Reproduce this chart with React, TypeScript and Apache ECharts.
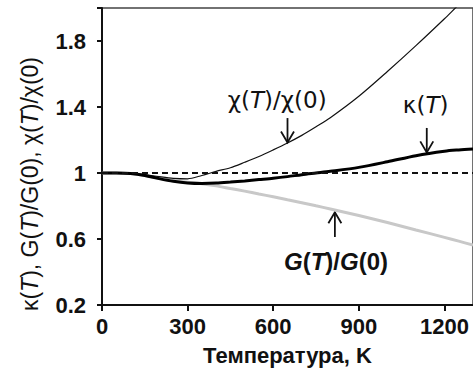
import React, { useEffect, useRef } from "react";
import * as echarts from "echarts";

const temps = [0, 50, 100, 150, 200, 250, 300, 350, 400, 450, 500, 550, 600, 650, 700, 750, 800, 900, 1000, 1100, 1200, 1250, 1300];
const kappa = [1, 1, 0.997, 0.985, 0.966, 0.95, 0.94, 0.937, 0.939, 0.945, 0.952, 0.96, 0.968, 0.978, 0.99, 1.0, 1.01, 1.034, 1.068, 1.105, 1.132, 1.14, 1.146];
const gRatio = [1, 1, 0.997, 0.985, 0.968, 0.953, 0.944, 0.935, 0.922, 0.906, 0.89, 0.873, 0.856, 0.838, 0.82, 0.801, 0.782, 0.742, 0.7, 0.655, 0.61, 0.587, 0.563];
const chi = [1, 1, 0.998, 0.99, 0.978, 0.968, 0.965, 0.985, 1.01, 1.032, 1.065, 1.1, 1.14, 1.182, 1.228, 1.28, 1.335, 1.465, 1.615, 1.772, 1.935, 2.02, 2.1];
const xTicks = [0, 300, 600, 900, 1200];
const yTicks = [0.2, 0.6, 1, 1.4, 1.8];
const refLevel = 1;

const FONT = "'Liberation Sans', Arial, sans-serif";
const DV = "'DejaVu Sans', sans-serif";

const pairs = (ys: number[]) => temps.map((t, i) => [t, ys[i]]);

export default function App() {
  const ref = useRef<HTMLDivElement>(null);
  useEffect(() => {
    if (!ref.current) return;
    const chart = echarts.init(ref.current, undefined, { renderer: "svg" });
    chart.setOption({
      animation: false,
      backgroundColor: "#ffffff",
      grid: {
        left: 102,
        top: 8,
        width: 373,
        height: 297,
        show: true,
        borderColor: "#444",
        borderWidth: 1.5,
      },
      xAxis: {
        type: "value",
        min: 0,
        max: 1300,
        interval: 300,
        name: "Температура, K",
        nameLocation: "middle",
        nameGap: 39,
        nameTextStyle: { fontFamily: FONT, fontWeight: "bold", fontSize: 22, color: "#111" },
        axisLine: { show: true, onZero: false, lineStyle: { color: "#111", width: 2 } },
        axisTick: { show: true, inside: false, length: 6, lineStyle: { color: "#111", width: 2 } },
        axisLabel: {
          fontFamily: FONT,
          fontWeight: "bold",
          fontSize: 22,
          color: "#111",
          margin: 10,
          showMaxLabel: false,
          formatter: (v: number) => (xTicks.includes(v) ? String(v) : ""),
        },
        splitLine: { show: false },
      },
      yAxis: {
        type: "value",
        min: 0.2,
        max: 2.0,
        interval: 0.4,
        axisLine: { show: true, onZero: false, lineStyle: { color: "#111", width: 2 } },
        axisTick: { show: true, inside: false, length: 5, lineStyle: { color: "#111", width: 2 } },
        axisLabel: {
          fontFamily: FONT,
          fontWeight: "bold",
          fontSize: 22,
          color: "#111",
          margin: 16,
          formatter: (v: number) => {
            const m = yTicks.find((t) => Math.abs(t - v) < 1e-6);
            return m === undefined ? "" : String(m);
          },
        },
        splitLine: { show: false },
      },
      series: [
        {
          type: "line",
          name: "G",
          data: pairs(gRatio),
          smooth: 0.3,
          showSymbol: false,
          lineStyle: { color: "#c8c8c8", width: 3 },
          z: 2,
        },
        {
          type: "line",
          name: "chi",
          data: pairs(chi),
          smooth: 0.3,
          showSymbol: false,
          lineStyle: { color: "#111", width: 1.2 },
          z: 3,
          markLine: {
            symbol: "none",
            silent: true,
            label: { show: false },
            lineStyle: { color: "#111", width: 2, type: [6, 4] },
            data: [{ yAxis: refLevel }],
          },
        },
        {
          type: "line",
          name: "kappa",
          data: pairs(kappa),
          smooth: 0.3,
          showSymbol: false,
          lineStyle: { color: "#000", width: 3 },
          z: 4,
        },
      ],
    });

    const px = (t: number, v: number) => chart.convertToPixel({ gridIndex: 0 }, [t, v]) as number[];
    const arrow = (t: number, v0: number, v1: number) => {
      const a = px(t, v0);
      const b = px(t, v1);
      const dir = b[1] > a[1] ? 1 : -1;
      return {
        type: "group",
        children: [
          { type: "line", shape: { x1: a[0], y1: a[1], x2: b[0], y2: b[1] }, style: { stroke: "#111", lineWidth: 1.8 } },
          {
            type: "polyline",
            shape: { points: [[b[0] - 6.5, b[1] - dir * 11], [b[0], b[1]], [b[0] + 6.5, b[1] - dir * 11]] },
            style: { stroke: "#111", lineWidth: 1.8, fill: "none" },
          },
        ],
      };
    };
    const label = (t: number, v: number, text: string, family: string, size: number, bold: boolean) => {
      const p = px(t, v);
      const w = bold ? "bold" : "normal";
      const base = { fontFamily: family, fontSize: size, fontWeight: w, fill: "#111" };
      return {
        type: "text",
        x: p[0],
        y: p[1],
        style: {
          text,
          align: "center",
          verticalAlign: "middle",
          ...base,
          rich: {
            n: { ...base },
            i: { ...base, fontStyle: "italic" },
          },
        },
      };
    };

    chart.setOption({
      graphic: [
        arrow(650, 1.333, 1.185),
        arrow(1138, 1.273, 1.125),
        arrow(816, 0.612, 0.762),
        label(614, 1.442, "{n|χ(}{i|T}{n|)/χ(0)}", DV, 23, false),
        label(1134, 1.412, "{n|κ(}{i|T}{n|)}", DV, 23, false),
        label(820, 0.461, "{i|G}{n|(}{i|T}{n|)/}{i|G}{n|(0)}", FONT, 24, true),
        {
          type: "text",
          x: 30,
          y: 184,
          rotation: Math.PI / 2,
          style: {
            text: "{n|κ(}{i|T}{n|), G(}{i|T}{n|)/G(0), χ(}{i|T}{n|)/χ(0)}",
            align: "center",
            verticalAlign: "middle",
            fontFamily: FONT,
            fontSize: 23,
            fill: "#111",
            rich: {
              n: { fontFamily: FONT, fontSize: 23, fill: "#111" },
              i: { fontFamily: FONT, fontSize: 23, fontStyle: "italic", fill: "#111" },
            },
          },
        },
      ],
    });

    return () => chart.dispose();
  }, []);

  return (
    <div
      ref={ref}
      style={{ position: "fixed", left: 0, top: 0, width: 473, height: 372, background: "#fff" }}
    />
  );
}
